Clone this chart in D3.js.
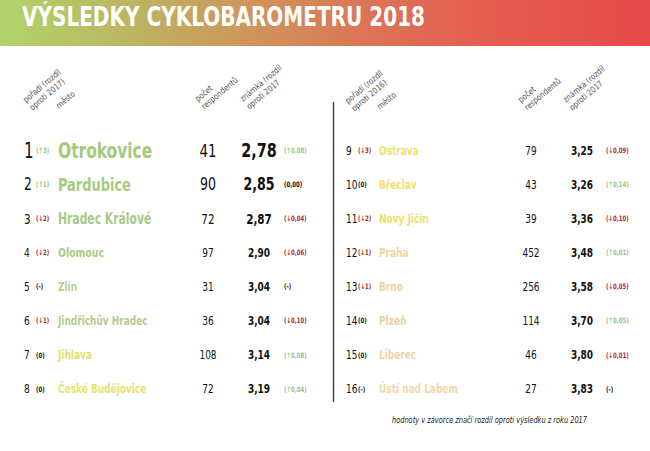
<!DOCTYPE html>
<html><head><meta charset="utf-8">
<script src="https://cdn.jsdelivr.net/npm/d3@7"></script>
<style>
html,body{margin:0;padding:0;background:#fff;}
svg{display:block;}
text{font-family:"Liberation Sans Narrow","DejaVu Sans Condensed","Roboto","Noto Sans",sans-serif;font-stretch:condensed;}
</style></head>
<body>
<script>
// ---------- data ----------
const ranks = [1,2,3,4,5,6,7,8,9,10,11,12,13,14,15,16];
const cities = ["Otrokovice","Pardubice","Hradec Králové","Olomouc","Zlín","Jindřichův Hradec","Jihlava","České Budějovice",
                "Ostrava","Břeclav","Nový Jičín","Praha","Brno","Plzeň","Liberec","Ústí nad Labem"];
const rankChange = [3,1,-2,-2,null,-1,0,0,-3,0,-2,-1,-1,0,0,null];
const respondents = [41,90,72,97,31,36,108,72,79,43,39,452,256,114,46,27];
const grades = [2.78,2.85,2.87,2.90,3.04,3.04,3.14,3.19,3.25,3.26,3.36,3.48,3.58,3.70,3.80,3.83];
const gradeChange = [0.08,0.00,-0.04,-0.06,null,-0.10,0.08,0.04,-0.09,0.14,-0.10,0.01,-0.05,0.05,-0.01,null];
const title = "VÝSLEDKY CYKLOBAROMETRU 2018";
const headerRank = [["pořadí (rozdíl","oproti 2017)"],["pořadí (rozdíl","oproti 2016)"]];
const headerCity = "město";
const headerResp = ["počet","respondentů"];
const headerGrade = ["známka (rozdíl","oproti 2017"];
const footnote = "hodnoty v závorce značí rozdíl oproti výsledku z roku 2017";

// ---------- styles ----------
const W = 650, H = 451;
const SX = 0.8; // horizontal condensing
const cityColors = ["#a6c97a","#a8ca7e","#a9c985","#accb88","#b5d08f","#b3cc8f","#dfe36c","#e5e46e",
                    "#ece36b","#efe16e","#f0de6c","#f2d59c","#f2d09f","#f2cda1","#f3d2a4","#f4d7a9"];
const citySize  = [21.5,18,15,13,12.5,12.5,12.5,12.5];
const rankSize  = [21,17,14.5,12.5,12.5,12.5,12.5,12.5];
const numSize   = [18.5,17.5,14.5,12.5,12.5,12.5,12.5,12.5];
const gradeSize = [20,17.5,14.5,12.5,12.5,12.5,12.5,12.5];
const upColor = "#9dbf82", downColor = "#b3292b", zeroColor = "#111";
const colX = [
  {rank:24, chg:36, city:58, resp:208, grade:259, gchg:284},
  {rank:346, chg:358, city:379, resp:531, grade:582, gchg:606}
];

const svg = d3.select("body").append("svg").attr("width",W).attr("height",H);

// header band
const defs = svg.append("defs");
const lg = defs.append("linearGradient").attr("id","hdr").attr("x1","0").attr("x2","1").attr("y1","0").attr("y2","0");
[[0,"#b0d46c"],[0.2,"#bcb562"],[0.38,"#cf965c"],[0.55,"#dc7657"],[0.75,"#e45c50"],[1,"#e84a4a"]]
  .forEach(([o,c]) => lg.append("stop").attr("offset",o).attr("stop-color",c));
svg.append("rect").attr("x",0).attr("y",0).attr("width",W).attr("height",46).attr("fill","url(#hdr)");
svg.append("text").attr("x",22).attr("y",26).attr("fill","#fff")
  .attr("font-size",27).attr("font-weight","bold")
  .attr("textLength",403).attr("lengthAdjust","spacingAndGlyphs")
  .text(title);

// row scale
const y = d3.scaleBand().domain(d3.range(8)).range([133,406]);

// divider
svg.append("line").attr("x1",333.5).attr("x2",333.5).attr("y1",102).attr("y2",y.range()[1]-4)
  .attr("stroke","#333").attr("stroke-width",1.3);

// condensed text helper
function ctext(x, yy, size, str){
  return svg.append("text").attr("transform",`translate(${x},${yy}) scale(${SX},1)`)
    .attr("font-size",size).text(str);
}

// column headers
function rotHeader(x, yy, lines){
  const g = svg.append("g").attr("transform",`translate(${x},${yy}) rotate(-40) scale(0.92,1)`);
  lines.forEach((l,i)=> g.append("text").attr("x",0).attr("y",i*10)
     .attr("font-size",8.5).attr("fill","#555").text(l));
}
[0,1].forEach(side=>{
  const c = colX[side];
  const hy = 103 + side*1;
  rotHeader(c.rank+2, hy, headerRank[side]);
  rotHeader(c.city+1, hy+6, [headerCity]);
  rotHeader(c.resp-10, hy-1, headerResp);
  rotHeader(c.grade-16, hy-1, headerGrade);
});

function fmtGrade(v){ return d3.format(".2f")(v).replace(".",","); }
function fmtRankChg(v){
  if (v===null) return "(-)";
  if (v===0) return "(0)";
  return "(" + (v>0?"↑":"↓") + Math.abs(v) + ")";
}
function fmtGradeChg(v){
  if (v===null) return "(-)";
  if (v===0) return "(0,00)";
  return "(" + (v>0?"↑":"↓") + fmtGrade(Math.abs(v)) + ")";
}
function chgColor(v){ return v===null||v===0 ? zeroColor : (v>0?upColor:downColor); }

ranks.forEach((r,i)=>{
  const side = i<8?0:1, row = i%8, c = colX[side];
  const cy = y(row) + y.bandwidth()/2;
  const base = s => cy + s*0.36;
  const rs = side===0 ? rankSize[row] : 12.5;
  const cs = side===0 ? citySize[row] : 12.5;
  const ns = side===0 ? numSize[row] : 12.5;
  const gs = side===0 ? gradeSize[row] : 12.5;
  ctext(c.rank, base(rs), rs, r).attr("fill","#111");
  ctext(c.chg, base(7.5), 7.5, fmtRankChg(rankChange[i])).attr("font-weight","bold")
     .attr("fill",chgColor(rankChange[i]));
  ctext(c.city, base(cs), cs, cities[i]).attr("font-weight","bold").attr("fill",cityColors[i]);
  ctext(c.resp, base(ns), ns, respondents[i]).attr("text-anchor","middle").attr("fill","#111");
  ctext(c.grade, base(gs), gs, fmtGrade(grades[i])).attr("font-weight","bold")
     .attr("text-anchor","middle").attr("fill","#111");
  ctext(c.gchg, base(7.5), 7.5, fmtGradeChg(gradeChange[i])).attr("font-weight","bold")
     .attr("fill",chgColor(gradeChange[i]));
});

svg.append("text").attr("x",489.5).attr("y",423).attr("text-anchor","middle")
  .attr("font-size",8.3).attr("font-style","italic").attr("fill","#222")
  .attr("textLength",195).attr("lengthAdjust","spacingAndGlyphs").text(footnote);
</script>
</body></html>
